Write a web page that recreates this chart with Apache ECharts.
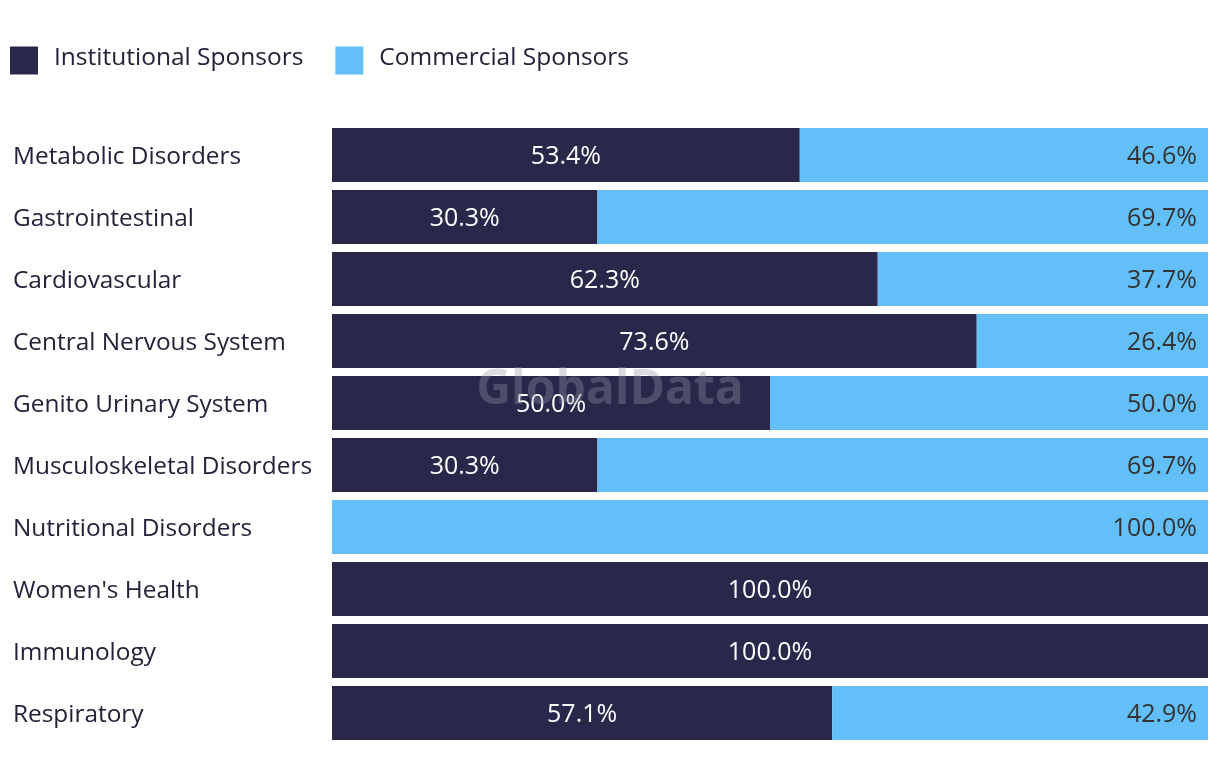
<!DOCTYPE html>
<html><head><meta charset="utf-8">
<script src="https://cdn.jsdelivr.net/npm/echarts@6/dist/echarts.min.js"></script>
<style>html,body{margin:0;padding:0;background:#fff}#c{width:1220px;height:784px}</style>
</head><body><div id="c"></div>
<script>
const categories = ["Metabolic Disorders","Gastrointestinal","Cardiovascular","Central Nervous System","Genito Urinary System","Musculoskeletal Disorders","Nutritional Disorders","Women's Health","Immunology","Respiratory"];
const institutional = [53.4,30.3,62.3,73.6,50.0,30.3,0,100.0,100.0,57.1];
const commercial = [46.6,69.7,37.7,26.4,50.0,69.7,100.0,0,0,42.9];
const seriesNames = ["Institutional Sponsors","Commercial Sponsors"];
const FONT = "Open Sans";
const chart = echarts.init(document.getElementById('c'), null, {renderer:'canvas'});
chart.setOption({
  animation:false,
  textStyle:{fontFamily:FONT},
  legend:{left:10, top:46, padding:0, itemWidth:28, itemHeight:28, itemGap:32, icon:'rect',
    formatter:n=>'{a|'+n+'}',
    textStyle:{fontSize:24.5, color:'#22223a', fontFamily:FONT,
      rich:{a:{fontSize:24.5, color:'#22223a', fontFamily:FONT, padding:[0,0,4,11]}}},
    data:seriesNames},
  grid:{left:332, right:12, top:124, height:620, containLabel:false},
  xAxis:{type:'value', min:0, max:100, show:false},
  yAxis:{type:'category', data:categories, inverse:true,
    axisLine:{show:false}, axisTick:{show:false},
    axisLabel:{align:'left', margin:319, fontSize:24.4, color:'#22223a', fontFamily:FONT,
      formatter:v=>'{a|'+v+'}',
      rich:{a:{fontSize:24.4, color:'#22223a', fontFamily:FONT, padding:[4,0,0,0]}}}},
  graphic:[{type:'text', left:'center', top:366, z:100,
    style:{text:'GlobalData', fontSize:48, fontWeight:'bold', fontFamily:FONT, fill:'rgba(150,150,170,0.35)'}}],
  series:[
    {name:seriesNames[0], type:'bar', stack:'s', barCategoryGap:'13%', data:institutional,
      itemStyle:{color:'#29284b'},
      label:{show:true, position:'inside', offset:[0,2], color:'#ffffff', fontSize:25, fontFamily:FONT,
        formatter:p=>p.value>0?p.value.toFixed(1)+'%':''}},
    {name:seriesNames[1], type:'bar', stack:'s', data:commercial,
      itemStyle:{color:'#62bff8'},
      label:{show:true, position:'insideRight', offset:[0,2], distance:11, color:'#333333', fontSize:25, fontFamily:FONT,
        formatter:p=>p.value>0?p.value.toFixed(1)+'%':''}}
  ]
});
</script></body></html>
